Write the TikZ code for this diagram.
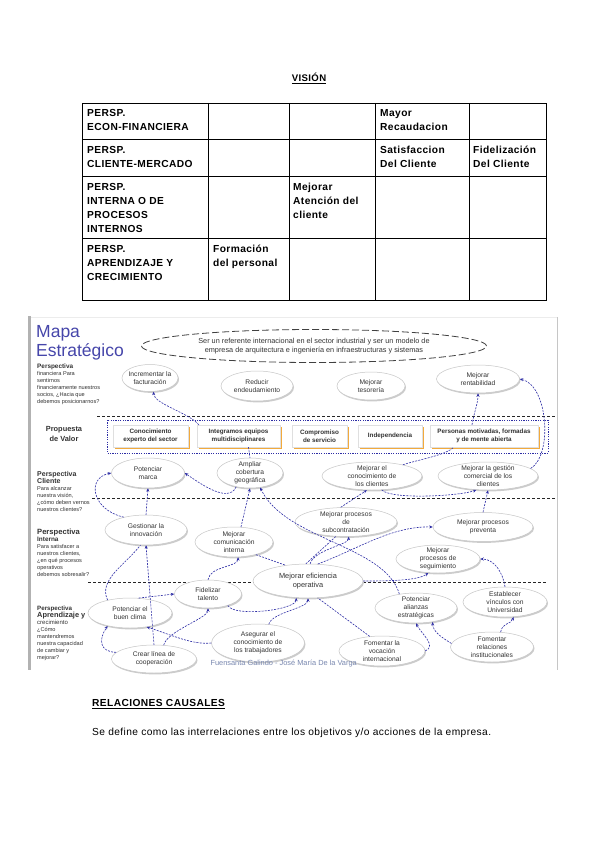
\documentclass[tikz,border=0pt]{standalone}
\usepackage{fontspec}
\setmainfont{Liberation Sans}
\newfontfamily\tabfont[LetterSpace=4]{Liberation Sans}
\usetikzlibrary{shapes.geometric,arrows.meta,shadows,calc}
\definecolor{mapblue}{RGB}{45,45,165}
\definecolor{titleblue}{RGB}{70,70,170}
\definecolor{boxorange}{RGB}{242,170,60}
\definecolor{foot}{RGB}{120,135,175}
\newcommand\eobj[5]{%
  \node[obj, minimum width=#3pt, minimum height=#4pt] (#1) at (#2) {};
  \node[objtext] (#1-t) at (#1.center) {#5};}
\begin{document}
\begin{tikzpicture}[x=1pt,y=-1pt,
  cell/.style={anchor=north west, align=left, inner sep=0pt, font=\tabfont\bfseries\fontsize{10.2}{14}\selectfont},
  obj/.style={ellipse, draw=gray!45, fill=white, line width=0.5pt, inner sep=0pt,
     general shadow={fill=gray!40, shadow xshift=1pt, shadow yshift=-1.4pt}},
  objtext/.style={align=center, inner sep=0pt, font=\fontsize{6.7}{7.8}\selectfont, text=black!80},
  vbox/.style={draw=gray!25, fill=white, align=center, inner sep=1pt, minimum height=22pt,
     font=\bfseries\fontsize{6.3}{7.6}\selectfont, text=black!80,
     general shadow={fill=boxorange, shadow xshift=1.6pt, shadow yshift=-1.6pt}},
  sep/.style={draw=black!85, line width=0.8pt, dash pattern=on 3pt off 2pt},
  conn/.style={draw=mapblue, line width=0.6pt, dash pattern=on 2pt off 1.2pt, -{Stealth[length=3.5pt,width=3pt]}},
  connl/.style={draw=mapblue, line width=0.6pt, dash pattern=on 2pt off 1.2pt},
  lbl/.style={anchor=north west, align=left, inner sep=0pt, text=black!80},
  small/.style={font=\fontsize{5.6}{7}\selectfont}
]
\useasboundingbox[fill=white] (0,0) rectangle (600,848);

% ---------- VISION table ----------
\node[inner sep=0pt, font=\tabfont\bfseries\fontsize{9.6}{11}\selectfont] (vtitle) at (309,78) {\underline{VISIÓN}};
\draw[line width=0.9pt] (82,103) rectangle (546,300);
\foreach \yy in {139,176,238} \draw[line width=0.9pt] (82,\yy) -- (546,\yy);
\foreach \xx in {208,289,375,469} \draw[line width=0.9pt] (\xx,103) -- (\xx,300);
\node[cell] (r1) at (87,109) {PERSP.\\ECON-FINANCIERA};
\node[cell] (r2) at (87,146) {PERSP.\\CLIENTE-MERCADO};
\node[cell] (r3) at (87,183) {PERSP.\\INTERNA O DE\\PROCESOS\\INTERNOS};
\node[cell] (r4) at (87,245) {PERSP.\\APRENDIZAJE Y\\CRECIMIENTO};
\node[cell] (c14) at (380,109) {Mayor\\Recaudacion};
\node[cell] (c24) at (380,146) {Satisfaccion\\Del Cliente};
\node[cell] (c25) at (473,146) {Fidelización\\Del Cliente};
\node[cell] (c33) at (293,183) {Mejorar\\Atención del\\cliente};
\node[cell] (c42) at (213,245) {Formación\\del personal};

% ---------- Map frame ----------
\draw[gray!15, line width=0.6pt] (30,317) -- (557,317);
\draw[gray!45, line width=1pt] (557,317) -- (557,670);
\draw[gray!60, line width=3pt] (29.5,316) -- (29.5,670);

\node[lbl, text=titleblue, font=\fontsize{17.5}{19}\selectfont] (mt) at (36,325) {Mapa\\Estratégico};

% vision ellipse
\node[ellipse, draw=black!75, line width=0.8pt, dash pattern=on 7pt off 3pt, fill=white,
  minimum width=345pt, minimum height=33pt, inner sep=0pt] (vis) at (314,346) {};
\node[align=center, inner sep=0pt, font=\fontsize{7.3}{9.6}\selectfont, text=black!80] (vis-t) at (vis.center)
  {Ser un referente internacional en el sector industrial y ser un modelo de\\empresa de arquitectura e ingeniería en infraestructuras y sistemas};

% separators
\draw[sep] (97,416) -- (555,416);
\draw[sep] (92,498) -- (555,498);
\draw[sep] (88,582) -- (547,582);

% left labels
\node[lbl, small] (lf) at (37,364) {{\bfseries\fontsize{6.4}{7}\selectfont Perspectiva}\\financiera Para\\sentirnos\\financieramente nuestros\\socios, ¿Hacia que\\debemos posicionarnos?};
\node[align=center, inner sep=0pt, font=\bfseries\fontsize{7.4}{9.5}\selectfont, text=black!80] (lv) at (64,434) {Propuesta\\de Valor};
\node[lbl, small] (lc) at (37,471) {{\bfseries\fontsize{7}{8}\selectfont Perspectiva}\\{\bfseries\fontsize{7}{8}\selectfont Cliente}\\Para alcanzar\\nuestra visión,\\¿cómo deben vernos\\nuestros clientes?};
\node[lbl, small] (li) at (37,529) {{\bfseries\fontsize{7.6}{9}\selectfont Perspectiva}\\{\bfseries\fontsize{6.4}{7.5}\selectfont Interna}\\Para satisfacer a\\nuestros clientes,\\¿en qué procesos\\operativos\\debemos sobresalir?};
\node[lbl, small] (la) at (37,606) {{\bfseries\fontsize{6.2}{7.5}\selectfont Perspectiva}\\{\bfseries\fontsize{7.4}{8.5}\selectfont Aprendizaje y}\\{\fontsize{6}{7.5}\selectfont crecimiento}\\¿Cómo\\mantendremos\\nuestra capacidad\\de cambiar y\\mejorar?};

% value proposition
\draw[draw=mapblue, line width=0.6pt, dash pattern=on 1.2pt off 1.2pt] (107,420) rectangle (548,453);
\node[vbox, minimum width=75pt] (b1) at (150.5,436) {Conocimiento\\experto del sector};
\node[vbox, minimum width=83pt] (b2) at (238.5,436) {Integramos equipos\\multidisciplinares};
\node[vbox, minimum width=55pt] (b3) at (319.5,436) {Compromiso\\de servicio};
\node[vbox, minimum width=64pt] (b4) at (390,436) {Independencia};
\node[vbox, minimum width=108pt] (b5) at (484,436) {Personas motivadas, formadas\\y de mente abierta};

% financial
\eobj{fact}{150,378}{56}{27}{Incrementar la\\facturación}
\eobj{deud}{257,386}{72}{30}{Reducir\\endeudamiento}
\eobj{teso}{371,386}{68}{28}{Mejorar\\tesorería}
\eobj{rent}{478,379}{83}{28}{Mejorar\\rentabilidad}

% client
\eobj{marca}{148,473}{73}{30}{Potenciar\\marca}
\eobj{cober}{250,473}{66}{30}{Ampliar\\cobertura\\geográfica}
\eobj{conoc}{372,476}{100}{28}{Mejorar el\\conocimiento de\\los clientes}
\eobj{gest}{488,476}{100}{28}{Mejorar la gestión\\comercial de los\\clientes}

% internal
\eobj{innov}{146,530}{82}{30}{Gestionar la\\innovación}
\eobj{comun}{234,542}{78}{30}{Mejorar\\comunicación\\interna}
\eobj{subc}{346,522}{102}{29}{Mejorar procesos\\de\\subcontratación}
\eobj{prev}{483,527}{100}{29}{Mejorar procesos\\preventa}
\eobj{segu}{438,559}{84}{28}{Mejorar\\procesos de\\seguimiento}
\node[obj, minimum width=110pt, minimum height=34pt] (efic) at (308,581) {};
\node[objtext, font=\fontsize{7.4}{9}\selectfont] (efic-t) at (efic.center) {Mejorar eficiencia\\operativa};

% learning
\eobj{clima}{130,613}{84}{30}{Potenciar el\\buen clima}
\eobj{tal}{208,594}{67}{28}{Fidelizar\\talento}
\eobj{coop}{154,659}{85}{28}{Crear línea de\\cooperación}
\eobj{aseg}{258,643}{93}{38}{Asegurar el\\conocimiento de\\los trabajadores}
\eobj{voc}{382,651}{86}{30}{Fomentar la\\vocación\\internacional}
\eobj{alian}{416,608}{82}{30}{Potenciar\\alianzas\\estratégicas}
\eobj{univ}{505,602}{84}{30}{Establecer\\vínculos con\\Universidad}
\eobj{inst}{492,647}{83}{30}{Fomentar\\relaciones\\institucionales}

% footer
\node[anchor=east, inner sep=0pt, text=foot, font=\fontsize{7.4}{8}\selectfont] (ft) at (357,664) {Fuensanta Galindo - José María De la Varga};

% ---------- connectors ----------
\draw[conn] ($(b2.north west)+(2,0)$) .. controls +(-10,-12) and +(0,12) .. (fact.285);
\draw[conn] ($(b5.north)+(-12,0)$) .. controls +(2,-12) and +(0,10) .. (rent.south);
\draw[conn] (gest.10) .. controls (553,455) and (548,385) .. (rent.east);
\draw[connl] (conoc.20) .. controls +(15,-5) and +(-8,8) .. ($(b5.south west)+(24,0)$);
\draw[conn] (conoc.305) .. controls +(10,10) and +(-15,6) .. (gest.230);
\draw[connl] ($(b2.south)+(10,0)$) -- (cober.north);
\draw[conn] (cober.225) .. controls +(-8,18) and +(12,8) .. (marca.east);
\draw[conn] (innov.150) .. controls (92,510) and (86,478) .. (marca.west);
\draw[conn] (innov.north) -- (marca.south);
\draw[conn] (comun.65) -- (cober.south);
\draw[conn] (alian.140) .. controls (385,545) and (285,540) .. (cober.305);
\draw[conn] (subc.110) -- (conoc.250);
\draw[connl] (efic.97) -- (subc.235);
\draw[conn] (efic.83) .. controls +(4,-14) and +(0,8) .. (subc.280);
\draw[conn] (efic.60) .. controls (360,548) and (392,526) .. (prev.west);
\draw[conn] (efic.east) .. controls +(22,0) and +(-10,8) .. (segu.235);
\draw[connl] (comun.330) -- (efic.145);
\draw[conn] (prev.north) -- (gest.south);
\draw[conn] (tal.north) .. controls +(2,-14) and +(0,10) .. (comun.285);
\draw[conn] (tal.330) .. controls +(6,12) and +(0,12) .. (efic.235);
\draw[conn] (coop.north) -- (innov.south);
\draw[conn] (clima.60) -- (tal.west);
\draw[connl] (clima.150) .. controls (98,580) and (125,565) .. (innov.250);
\draw[conn] (coop.170) .. controls (100,652) and (98,640) .. (clima.210);
\draw[conn] (aseg.west) .. controls (192,645) and (172,635) .. (clima.320);
\draw[conn] (coop.55) .. controls +(3,-14) and +(0,10) .. (tal.south);
\draw[conn] (aseg.60) .. controls +(3,-12) and +(0,10) .. (efic.south);
\draw[connl] (voc.130) -- (efic.300);
\draw[conn] (voc.east) .. controls +(12,-5) and +(5,10) .. (alian.south);
\draw[conn] (inst.175) .. controls +(-8,-5) and +(0,10) .. (alian.320);
\draw[conn] (inst.60) .. controls +(2,-10) and +(-3,8) .. (univ.300);
\draw[conn] (univ.north) .. controls +(-2,-14) and +(14,0) .. (segu.east);

% ---------- bottom text ----------
\node[anchor=west, inner sep=0pt, font=\tabfont\bfseries\fontsize{10.2}{12}\selectfont] (rc) at (92,704) {\underline{RELACIONES CAUSALES}};
\node[anchor=west, inner sep=0pt, font=\tabfont\fontsize{10.2}{12}\selectfont] (def) at (92,733) {Se define como las interrelaciones entre los objetivos y/o acciones de la empresa.};
\end{tikzpicture}
\end{document}
